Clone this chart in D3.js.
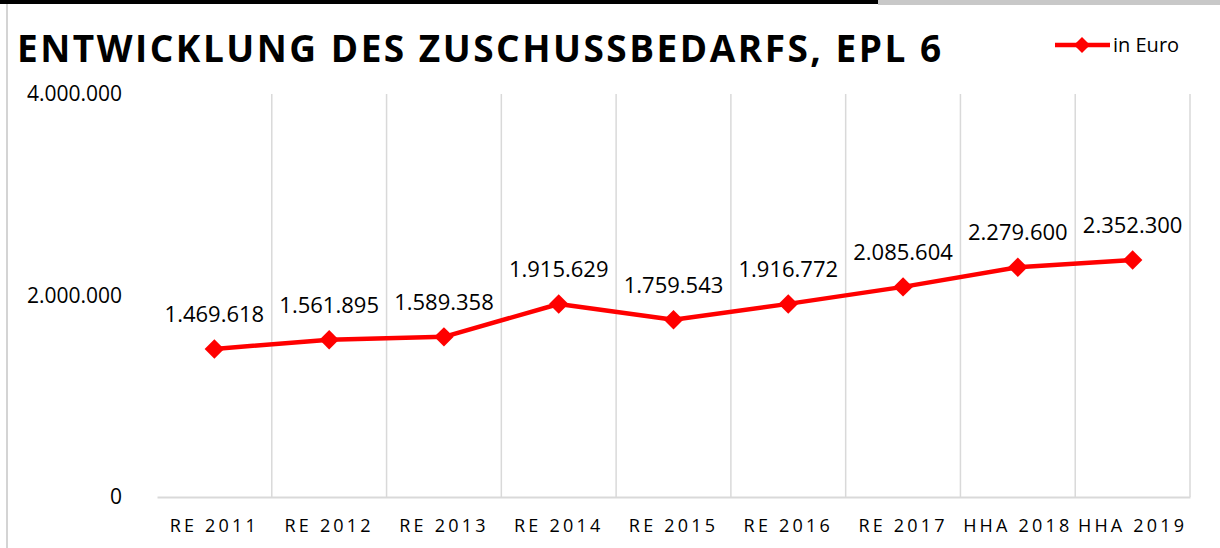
<!DOCTYPE html>
<html>
<head>
<meta charset="utf-8">
<script src="https://cdn.jsdelivr.net/npm/d3@7"></script>
<style>
  html, body { margin: 0; padding: 0; background: #fff; }
  svg { display: block; font-family: "Open Sans", "Noto Sans", sans-serif; }
</style>
</head>
<body>
<svg id="chart" width="1220" height="548"></svg>
<script>
// chart data
const categories = ['RE 2011', 'RE 2012', 'RE 2013', 'RE 2014', 'RE 2015',
                    'RE 2016', 'RE 2017', 'HHA 2018', 'HHA 2019'];
const values = [1469618, 1561895, 1589358, 1915629, 1759543,
                1916772, 2085604, 2279600, 2352300];
const yTicks = [0, 2000000, 4000000];
const seriesName = 'in Euro';
const title = 'ENTWICKLUNG DES ZUSCHUSSBEDARFS, EPL 6';

const W = 1220, H = 548;
const plot = { left: 157, right: 1190, top: 94, bottom: 497 };
const RED = '#ff0000';
const GRID = '#d9d9d9';

const svg = d3.select('#chart');
const fmt = v => d3.format(',')(v).replace(/,/g, '.');

// frame bits
svg.append('rect').attr('x', 0).attr('y', 0).attr('width', 878).attr('height', 4).attr('fill', '#000');
svg.append('rect').attr('x', 878).attr('y', 0).attr('width', W - 878).attr('height', 5).attr('fill', '#c8c8c8');
svg.append('rect').attr('x', 6).attr('y', 4).attr('width', 2).attr('height', H - 4).attr('fill', '#d4d4d4');

// title
svg.append('text')
  .attr('x', 17).attr('y', 62)
  .attr('font-size', 37).attr('font-weight', 700)
  .attr('letter-spacing', 2.5)
  .attr('fill', '#000')
  .text(title);

// scales
const x = d3.scaleBand().domain(categories).range([plot.left, plot.right]);
const y = d3.scaleLinear().domain([0, 4000000]).range([plot.bottom, plot.top]);

// vertical gridlines at category boundaries
const bounds = categories.map(c => x(c)).concat([x.range()[1]]);
svg.append('g').selectAll('line')
  .data(bounds.slice(1))
  .join('line')
  .attr('x1', d => d).attr('x2', d => d)
  .attr('y1', plot.top).attr('y2', plot.bottom)
  .attr('stroke', GRID).attr('stroke-width', 1.5);

// x axis
const xAxis = svg.append('g')
  .attr('transform', `translate(0,${plot.bottom})`)
  .call(d3.axisBottom(x).tickSize(0).tickPadding(22));
xAxis.select('.domain').attr('stroke', GRID).attr('stroke-width', 2);
xAxis.selectAll('text')
  .attr('font-size', 18).attr('letter-spacing', 3.2)
  .attr('font-family', '"Open Sans", sans-serif')
  .attr('fill', '#000');

// y axis
const yAxis = svg.append('g')
  .attr('transform', `translate(${plot.left},0)`)
  .call(d3.axisLeft(y).tickValues(yTicks).tickFormat(fmt).tickSize(0).tickPadding(35));
yAxis.select('.domain').remove();
yAxis.selectAll('text')
  .attr('font-size', 21)
  .attr('font-family', '"Open Sans", sans-serif')
  .attr('fill', '#000');

// line
const cx = d => x(d.cat) + x.bandwidth() / 2;
const pts = categories.map((c, i) => ({ cat: c, v: values[i] }));
svg.append('path')
  .datum(pts)
  .attr('fill', 'none')
  .attr('stroke', RED).attr('stroke-width', 4.5)
  .attr('stroke-linejoin', 'round')
  .attr('d', d3.line().x(cx).y(d => y(d.v)));

// diamond markers
svg.append('g').selectAll('path')
  .data(pts)
  .join('path')
  .attr('d', d3.symbol().type(d3.symbolSquare).size(190))
  .attr('transform', d => `translate(${cx(d)},${y(d.v)}) rotate(45)`)
  .attr('fill', RED);

// data labels
svg.append('g').selectAll('text')
  .data(pts)
  .join('text')
  .attr('x', cx)
  .attr('y', d => y(d.v) - 27)
  .attr('text-anchor', 'middle')
  .attr('font-size', 22)
  .attr('fill', '#000')
  .text(d => fmt(d.v));

// legend
const lg = svg.append('g').attr('transform', 'translate(1055,45)');
lg.append('line').attr('x1', 0).attr('x2', 55).attr('y1', 0).attr('y2', 0)
  .attr('stroke', RED).attr('stroke-width', 4.5);
lg.append('path').attr('d', d3.symbol().type(d3.symbolSquare).size(130))
  .attr('transform', 'translate(27,0) rotate(45)').attr('fill', RED);
lg.append('text').attr('x', 58).attr('y', 7)
  .attr('font-size', 20).attr('fill', '#000').text(seriesName);
</script>
</body>
</html>
